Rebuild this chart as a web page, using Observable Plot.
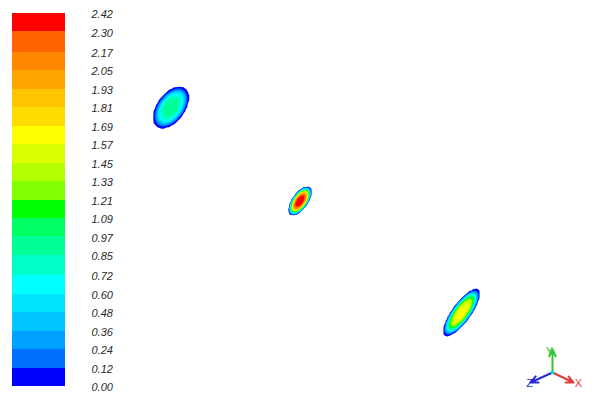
<!DOCTYPE html>
<html>
<head>
<meta charset="utf-8">
<script src="https://cdn.jsdelivr.net/npm/d3@7"></script>
<script src="https://cdn.jsdelivr.net/npm/@observablehq/plot@0.6"></script>
<style>
  html, body { margin: 0; padding: 0; background: #fff; }
  #chart { position: relative; width: 604px; height: 405px; overflow: hidden; background: #fff;
           font-family: "Liberation Sans", Arial, sans-serif; }
  #chart > div { position: absolute; }
  #field { left: 0; top: 0; }
  #bar { left: 0; top: 0; }
  #triad { left: 512px; top: 340px; }
</style>
</head>
<body>
<div id="chart">
  <div id="field"></div>
  <div id="bar"></div>
  <div id="triad"></div>
</div>
<script>
// Contour levels (band boundaries) and the labels printed beside the colour bar
const levels = [0.00, 0.12, 0.24, 0.36, 0.48, 0.60, 0.72, 0.85, 0.97, 1.09, 1.21,
                1.33, 1.45, 1.57, 1.69, 1.81, 1.93, 2.05, 2.17, 2.30, 2.42];
const levelLabels = ["0.00", "0.12", "0.24", "0.36", "0.48", "0.60", "0.72", "0.85", "0.97", "1.09", "1.21",
                     "1.33", "1.45", "1.57", "1.69", "1.81", "1.93", "2.05", "2.17", "2.30", "2.42"];

// Band colours, lowest band first
const bandColors = ["#0000ff", "#0070ff", "#00a0ff", "#00c4ff", "#00e4ff", "#00ffff",
                    "#00ffc8", "#00ff96", "#00ff64", "#00ff00", "#82ff00", "#b4ff00",
                    "#dcff00", "#ffff00", "#ffdc00", "#ffc300", "#ffa500", "#ff8700",
                    "#ff6400", "#ff0000"];

// Three spots in the section plane (cm): centre, semi-axes, tilt, peak value
const spotX     = [17.05, 29.95, 46.10];
const spotY     = [29.80, 20.45,  9.30];
const spotMajor = [2.40, 1.70, 2.85];
const spotMinor = [1.40, 0.80, 0.95];
const spotAngle = [54, 55, 54];
const spotPeak  = [0.92, 2.42, 1.60];

// Coordinate triad: screen directions of the X, Y, Z axes
const triadAxes   = ["X", "Y", "Z"];
const triadDX     = [21, 0, -22];
const triadDY     = [-10, 23, -10];
const triadLabelX = [26, -3, -23];
const triadLabelY = [-11, 21, -11];
const triadColors = ["#e03a3a", "#33c433", "#2a2ad4"];

// Scalar field made of the three elliptical spots (negative outside each spot)
function field(x, y) {
  let v = -Infinity;
  for (let i = 0; i < spotX.length; ++i) {
    const t = spotAngle[i] * Math.PI / 180;
    const dx = x - spotX[i], dy = y - spotY[i];
    const u = (dx * Math.cos(t) + dy * Math.sin(t)) / spotMajor[i];
    const w = (-dx * Math.sin(t) + dy * Math.cos(t)) / spotMinor[i];
    const s = 1 - (u * u + w * w) ** 2;
    v = Math.max(v, spotPeak[i] * s * Math.abs(s));
  }
  return v;
}

const colorScale = {type: "threshold", domain: levels.slice(1, 20), range: bandColors};

// Filled contours
document.getElementById("field").append(Plot.plot({
  width: 604, height: 405, margin: 0,
  style: {background: "transparent"},
  x: {domain: [0, 60.4], axis: null},
  y: {domain: [0, 40.5], axis: null},
  color: colorScale,
  marks: [
    Plot.contour({x1: 0, y1: 0, x2: 60.4, y2: 40.5, fill: field,
                  thresholds: levels.slice(0, 20), stroke: "none"})
  ]
}));

// Colour bar with level labels
const bands = d3.range(20).map(i => ({lo: levels[i], hi: levels[i + 1]}));
document.getElementById("bar").append(Plot.plot({
  width: 118, height: 405, margin: 0,
  style: {background: "transparent"},
  x: {domain: [0, 1], range: [12, 65], axis: null},
  y: {domain: [0, 2.42], range: [386, 13], axis: null},
  color: colorScale,
  marks: [
    Plot.rect(bands, {x1: 0, x2: 1, y1: "lo", y2: "hi", fill: "lo", shapeRendering: "crispEdges"}),
    Plot.text(levels, {x: 1, y: d => d, text: levelLabels, dx: 26, dy: 1,
                       textAnchor: "start", fontSize: 11, fontStyle: "italic",
                       fontFamily: "Liberation Sans, Arial, sans-serif", fill: "#2a2a2a"})
  ]
}));

// Axis triad
document.getElementById("triad").append(Plot.plot({
  width: 80, height: 64, margin: 0,
  style: {background: "transparent", overflow: "visible"},
  x: {domain: [-40, 40], range: [0, 80], axis: null},
  y: {domain: [-32, 32], range: [64, 0], axis: null},
  color: {type: "identity"},
  marks: [
    Plot.arrow(triadAxes, {x1: 0, y1: 0, x2: triadDX, y2: triadDY, stroke: triadColors,
                           strokeWidth: 2, headLength: 6, headAngle: 50}),
    Plot.text(triadAxes, {x: triadLabelX, y: triadLabelY, text: d => d, fill: triadColors,
                          fontSize: 11, fontFamily: "Liberation Sans, Arial, sans-serif"}),
    Plot.dot([0], {x: 0, y: 0, r: 1.8, fill: "#00e0e0"})
  ]
}));
</script>
</body>
</html>
